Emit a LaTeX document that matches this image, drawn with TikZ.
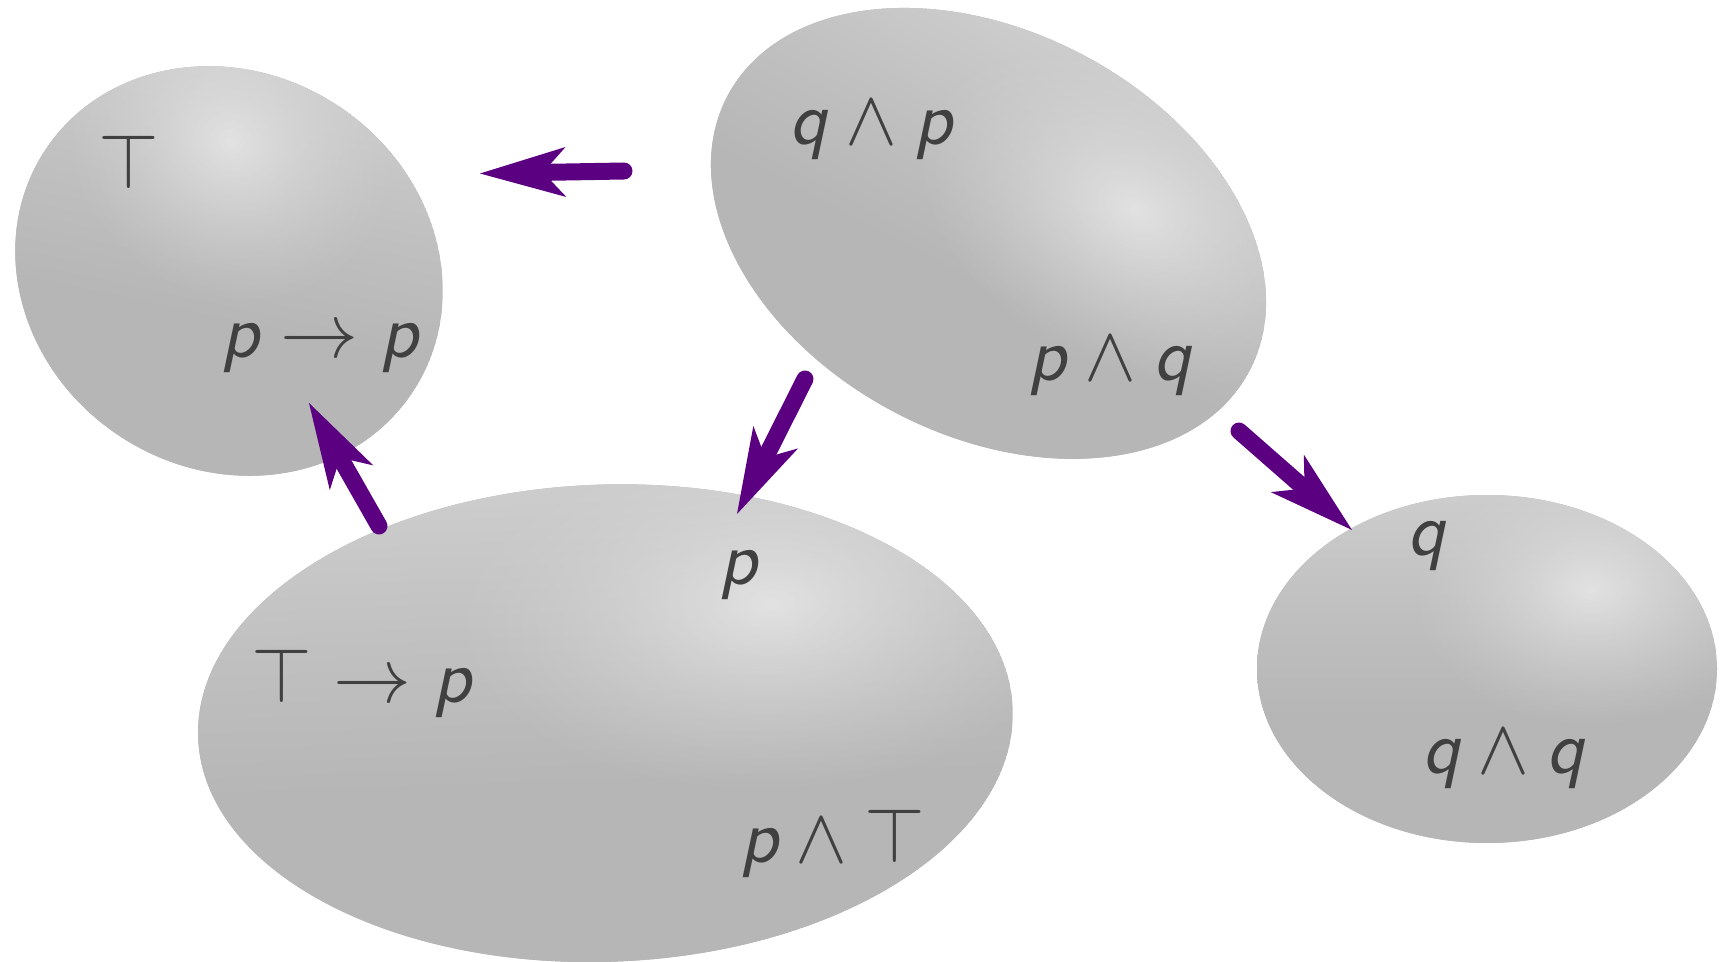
\RequirePackage{fix-cm}
\documentclass[tikz,border=0pt]{standalone}
\usetikzlibrary{arrows.meta,fadings}
\definecolor{arrowpurple}{RGB}{90,0,128}
\definecolor{txtgray}{RGB}{64,64,64}
\definecolor{blobbase}{RGB}{182,182,182}
\definecolor{bandmid}{RGB}{192,192,192}
\definecolor{bandtop}{RGB}{204,204,204}
\definecolor{hlin}{RGB}{226,226,226}
\definecolor{hlout}{RGB}{206,206,206}
\pgfdeclareverticalshading{blobband}{100bp}{color(0bp)=(blobbase); color(25bp)=(blobbase); color(44bp)=(blobbase); color(58bp)=(bandmid); color(72bp)=(bandtop); color(100bp)=(bandtop)}
\tikzfading[name=softspot, inner color=transparent!0, outer color=transparent!100]
\newcommand{\vp}{\textsf{\itshape p}}
\newcommand{\vq}{\textsf{\itshape q}}
% #1 cx, #2 cy, #3 x radius, #4 y radius, #5 rotation, #6 hx, #7 hy, #8 highlight scale, #9 band angle
\newcommand{\drawblob}[9]{%
  \begin{scope}
    \path[clip, shift={(#1,#2)}, rotate=#5] (0,0) ellipse [x radius=#3, y radius=#4];
    \fill[blobbase, shift={(#1,#2)}, rotate=#5] (0,0) ellipse [x radius=#3, y radius=#4];
    \begin{scope}[transform canvas={shift={(#1,#2)}, rotate=#9}]
      \shade[shading=blobband] (-#3-60,-#4-20) rectangle (#3+60,#4+20);
    \end{scope}
    \begin{scope}[transform canvas={shift={(#6,#7)}, rotate=#5}]
      \shade[inner color=hlin, outer color=hlout, path fading=softspot]
        (0,0) ellipse [x radius=#8*#3, y radius=#8*#4];
    \end{scope}
  \end{scope}}
\tikzset{
  lbl/.style={text=txtgray, inner sep=0pt, anchor=base, font=\fontsize{39}{40}\selectfont},
  bigarrow/.style={draw=arrowpurple, line width=8.5pt, line cap=round,
    -{Stealth[length=43pt, width=25pt, inset=11.5pt, line width=0pt, fill=arrowpurple]}}
}
\begin{document}
\begin{tikzpicture}[x=0.5pt, y=-0.5pt]
\useasboundingbox (0,0) rectangle (1726,962);
% blobs
\drawblob{229}{271}{220}{198}{-33}{231}{141}{0.8}{-12}
\drawblob{988.5}{233.4}{295}{202}{-27.75}{1135}{210}{0.8}{-27.75}
\drawblob{605.4}{723.2}{407.5}{238.6}{2}{771}{603}{0.8}{2}
\drawblob{1487}{669}{230}{174}{0}{1591}{589}{0.8}{0}
% arrow end points
\coordinate (aS) at (624,171);
\coordinate (aE) at (480,173.5);
\coordinate (bS) at (805,379);
\coordinate (bE) at (737,514);
\coordinate (cS) at (1239,431);
\coordinate (cE) at (1352,530);
\coordinate (dS) at (379,526);
\coordinate (dE) at (309,403);
\draw[bigarrow] (aS) -- (aE);
\draw[bigarrow] (bS) -- (bE);
\draw[bigarrow] (cS) -- (cE);
\draw[bigarrow] (dS) -- (dE);
% labels
\node[lbl] (top1) at (129,189) {$\top$};
\node[lbl] (pimpp) at (319.5,358) {$\vp\to\vp$};
\node[lbl] (qandp) at (871,145) {$\vq\wedge\vp$};
\node[lbl] (pandq) at (1110,381) {$\vp\wedge\vq$};
\node[lbl] (p3) at (738.5,585) {$\vp$};
\node[lbl] (topimpp) at (361.5,703) {$\top\to\vp$};
\node[lbl] (pandtop) at (833,862) {$\vp\wedge\top$};
\node[lbl] (q4) at (1426.5,556) {$\vq$};
\node[lbl] (qandq) at (1503.5,773) {$\vq\wedge\vq$};
\end{tikzpicture}
\end{document}
